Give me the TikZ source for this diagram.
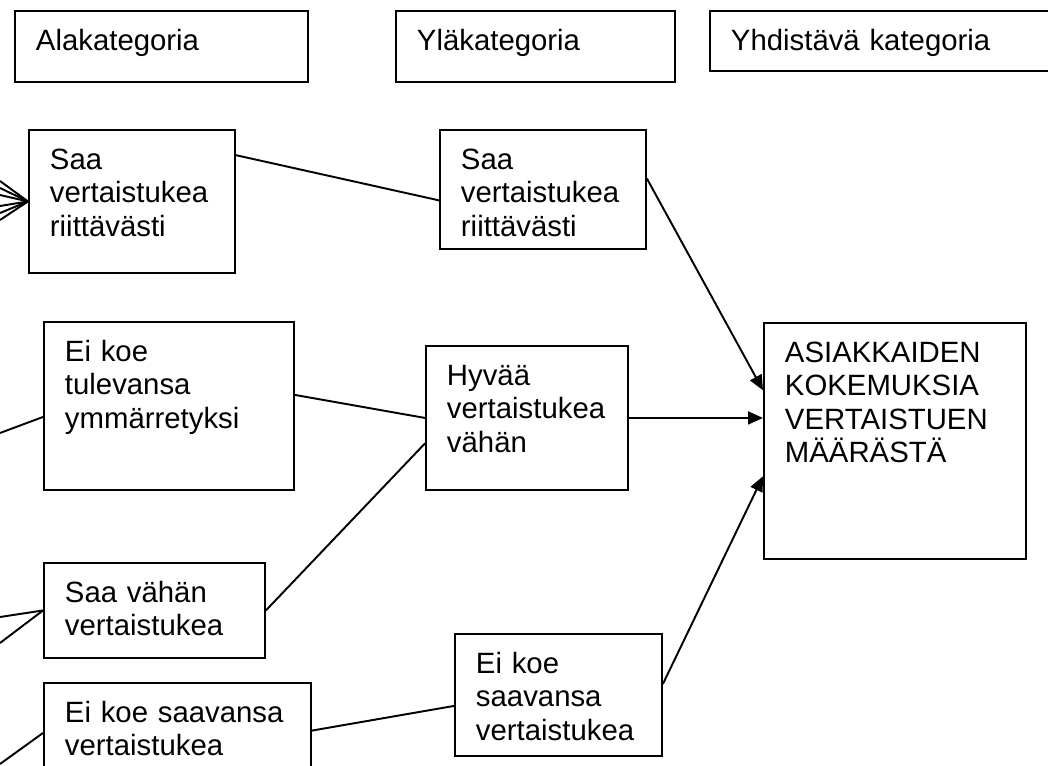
\documentclass[tikz,border=0pt]{standalone}
\usepackage{fontspec}
\setmainfont{Liberation Sans}
\usetikzlibrary{arrows.meta}

\begin{document}
\begin{tikzpicture}[x=0.02cm, y=-0.02cm,
  katbox/.style={draw, line width=1.1pt, anchor=north west, align=left,
    font=\fontsize{16.7}{18.8}\selectfont, inner xsep=0.42cm, inner ysep=0.38cm,
    text height=0.42cm},
  yhteys/.style={line width=1.1pt},
  nuoli/.style={line width=1.1pt, -{Triangle[length=0.3cm, width=0.26cm]}}]

  \useasboundingbox (0,0) rectangle (1048,766);

  % otsikot
  \node[katbox, text width=5.02cm, text depth=0.24cm] (ala) at (14,10) {Alakategoria};
  \node[katbox, text width=4.74cm, text depth=0.24cm] (yla) at (395,10) {Yläkategoria};
  \node[katbox, text width=6.36cm, text depth=0.02cm] (yhd) at (709,10) {Yhdistävä kategoria};

  % alakategoriat
  \node[katbox, text width=3.28cm, text depth=1.68cm] (a1) at (28,129) {Saa\\vertaistukea\\riittävästi};
  \node[katbox, text width=4.16cm, text depth=2.18cm] (a2) at (43,321) {Ei koe\\tulevansa\\ymmärretyksi};
  \node[katbox, text width=3.58cm, text depth=0.72cm] (a3) at (43,562) {Saa vähän\\vertaistukea};
  \node[katbox, text width=4.50cm, text depth=0.82cm] (a4) at (43,682) {Ei koe saavansa\\vertaistukea};

  % yläkategoriat
  \node[katbox, text width=3.28cm, text depth=1.20cm] (y1) at (439,129) {Saa\\vertaistukea\\riittävästi};
  \node[katbox, text width=3.20cm, text depth=1.70cm] (y2) at (425,345) {Hyvää\\vertaistukea\\vähän};
  \node[katbox, text width=3.30cm, text depth=1.26cm] (y3) at (454,633) {Ei koe\\saavansa\\vertaistukea};

  % yhdistävä kategoria
  \node[katbox, text width=4.40cm, text depth=3.54cm] (kok) at (763,322) {ASIAKKAIDEN\\KOKEMUKSIA\\VERTAISTUEN\\MÄÄRÄSTÄ};

  % reunasta tulevat viivat
  \foreach \yy [count=\i] in {181,188,195,206,213,220}
    \coordinate (v\i) at (0,\yy);
  \foreach \i in {1,...,6}
    \draw[yhteys] (v\i) -- (a1.west);
  \coordinate (w1) at (0,433);
  \coordinate (w2) at (0,617);
  \coordinate (w3) at (0,643);
  \coordinate (w4) at (0,764);
  \draw[yhteys] (w1) -- (a2.185.5);
  \draw[yhteys] (w2) -- (a3.west);
  \draw[yhteys] (w3) -- (a3.west);
  \draw[yhteys] (w4) -- (a4.west);

  % ala -> ylä
  \draw[yhteys] (a1.24.8) -- (y1.186.9);
  \draw[yhteys] (a2.5.5) -- (y2.west);
  \draw[yhteys] (a3.east) -- (y2.194.4);
  \draw[yhteys] (a4.1.7) -- (y3.186.6);

  % ylä -> yhdistävä
  \draw[nuoli] (y1.6.4) -- (kok.159.9);
  \draw[nuoli] (y2.east) -- (y2.east -| kok.west);
  \draw[nuoli] (y3.6.6) -- (kok.195.8);
\end{tikzpicture}
\end{document}
